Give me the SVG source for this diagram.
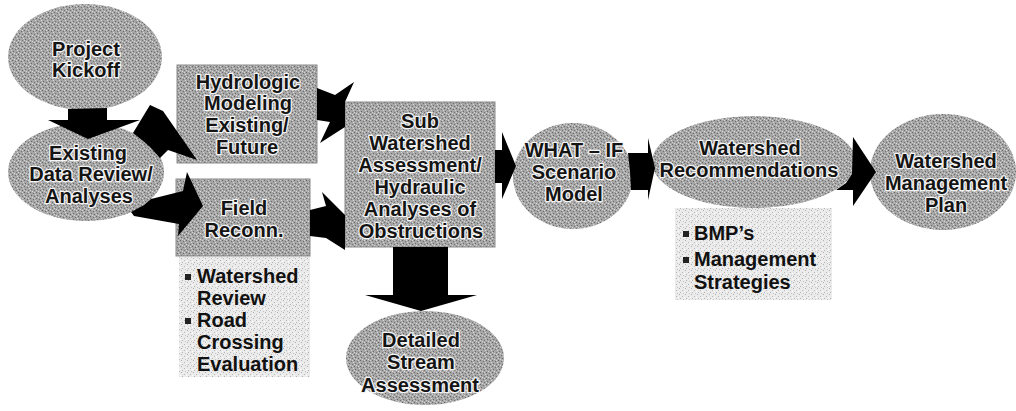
<svg xmlns="http://www.w3.org/2000/svg" width="1016" height="411" viewBox="0 0 1016 411">
<defs>
<pattern id="gr" patternUnits="userSpaceOnUse" width="6" height="6">
<rect width="6" height="6" fill="#a6a6a6"/>
<rect x="0" y="0" width="1" height="1" fill="#666"/>
<rect x="3" y="1" width="1" height="1" fill="#707070"/>
<rect x="1" y="3" width="1" height="1" fill="#6a6a6a"/>
<rect x="4" y="4" width="1" height="1" fill="#727272"/>
<rect x="2" y="5" width="1" height="1" fill="#dcdcdc"/>
<rect x="5" y="2" width="1" height="1" fill="#d8d8d8"/>
<rect x="4" y="0" width="1" height="1" fill="#d4d4d4"/>
<rect x="0" y="4" width="1" height="1" fill="#d0d0d0"/>
</pattern>
<pattern id="lt" patternUnits="userSpaceOnUse" width="6" height="6">
<rect width="6" height="6" fill="#ebebeb"/>
<rect x="1" y="0" width="1" height="1" fill="#b0b0b0"/>
<rect x="4" y="2" width="1" height="1" fill="#b8b8b8"/>
<rect x="2" y="4" width="1" height="1" fill="#b4b4b4"/>
<rect x="5" y="5" width="1" height="1" fill="#c4c4c4"/>
<rect x="0" y="3" width="1" height="1" fill="#ffffff"/>
</pattern>
</defs>
<style>
.n{fill:url(#gr);}
.b{fill:url(#gr);stroke:#8a8a8a;stroke-width:1;}
.lb{fill:url(#lt);}
.t{font-family:"Liberation Sans",Arial,sans-serif;font-weight:bold;font-size:20px;fill:#141414;stroke:#f4f4f4;stroke-width:2.5;paint-order:stroke;stroke-linejoin:round;text-anchor:middle;}
.bl{font-family:"Liberation Sans",Arial,sans-serif;font-weight:bold;font-size:20px;fill:#111;}
.sq{fill:#222;}
.c{fill:#000;}
</style>
<rect width="1016" height="411" fill="#fff"/>

<g id="kickoff">
<ellipse class="n" cx="85" cy="57" rx="77" ry="53"/>
<text class="t" x="86" y="56">Project</text>
<text class="t" x="86" y="77">Kickoff</text>
</g>
<g id="existing">
<ellipse class="n" cx="86" cy="172" rx="78" ry="49"/>
<text class="t" x="88" y="160">Existing</text>
<text class="t" x="91" y="181">Data Review/</text>
<text class="t" x="89" y="203">Analyses</text>
</g>
<g id="hydrologic">
<rect class="b" x="177" y="65" width="140" height="98"/>
<text class="t" x="248" y="89">Hydrologic</text>
<text class="t" x="248" y="110">Modeling</text>
<text class="t" x="247" y="132">Existing/</text>
<text class="t" x="247" y="154">Future</text>
</g>
<g id="field">
<rect class="b" x="176" y="179" width="134" height="77"/>
<text class="t" x="244" y="215">Field</text>
<text class="t" x="244" y="237">Reconn.</text>
</g>
<g id="field-notes">
<rect class="lb" x="179" y="257" width="131" height="120"/>
<rect class="sq" x="185" y="274" width="6" height="6"/>
<text class="bl" x="197" y="283">Watershed</text>
<text class="bl" x="197" y="305">Review</text>
<rect class="sq" x="185" y="318" width="6" height="6"/>
<text class="bl" x="197" y="327">Road</text>
<text class="bl" x="197" y="349">Crossing</text>
<text class="bl" x="197" y="371">Evaluation</text>
</g>
<g id="subwatershed">
<rect class="b" x="345" y="102" width="150" height="145"/>
<text class="t" x="420" y="128">Sub</text>
<text class="t" x="420" y="150">Watershed</text>
<text class="t" x="420" y="172">Assessment/</text>
<text class="t" x="420" y="194">Hydraulic</text>
<text class="t" x="420" y="216">Analyses of</text>
<text class="t" x="421" y="238">Obstructions</text>
</g>
<g id="detailed">
<ellipse class="n" cx="425" cy="358" rx="79" ry="47"/>
<text class="t" x="421" y="347">Detailed</text>
<text class="t" x="421" y="369">Stream</text>
<text class="t" x="420" y="392">Assessment</text>
</g>
<g id="whatif">
<ellipse class="n" cx="573" cy="176" rx="60" ry="53"/>
<text class="t" x="574" y="157">WHAT – IF</text>
<text class="t" x="574" y="179">Scenario</text>
<text class="t" x="574" y="201">Model</text>
</g>
<g id="recommendations">
<ellipse class="n" cx="754" cy="162" rx="102" ry="46"/>
<text class="t" x="750" y="155">Watershed</text>
<text class="t" x="749" y="177">Recommendations</text>
</g>
<g id="rec-notes">
<rect class="lb" x="675" y="208" width="157" height="92"/>
<rect class="sq" x="683" y="231" width="6" height="6"/>
<text class="bl" x="694" y="240">BMP’s</text>
<rect class="sq" x="683" y="257" width="6" height="6"/>
<text class="bl" x="694" y="266">Management</text>
<text class="bl" x="694" y="289">Strategies</text>
</g>
<g id="plan">
<ellipse class="n" cx="943" cy="172" rx="73" ry="58"/>
<text class="t" x="946" y="168">Watershed</text>
<text class="t" x="946" y="190">Management</text>
<text class="t" x="946" y="212">Plan</text>
</g>

<g id="connectors">
<polygon class="c" points="68,109 107,108 107,120 140,120 88,139 48,120 68,120"/>
<polygon class="c" points="133,133 150,105 163,111 197,160 168,150 160,158 150,147 142,140"/>
<polygon class="c" points="151,199 183,191 187,172 203,206 178,236 179,224 134,216 131,212 144,205"/>
<polygon class="c" points="317,88 335,95 354,82 345,102 345,127 320,143 330,122 317,120"/>
<polygon class="c" points="310,210 326,206 322,192 345,215 345,250 326,238 310,236"/>
<polygon class="c" points="393,247 448,247 448,295 477,295 421,311 365,295 393,295"/>
<polygon class="c" points="495,150 502,150 502,132 516,166 502,199 502,183 495,183"/>
<polygon class="c" points="628,153 648,153 648,138 655,168 648,200 648,190 631,190 630,172"/>
<polygon class="c" points="853,137 876,172 853,206 853,190 836,190 846,183 852,174"/>
</g>
</svg>
